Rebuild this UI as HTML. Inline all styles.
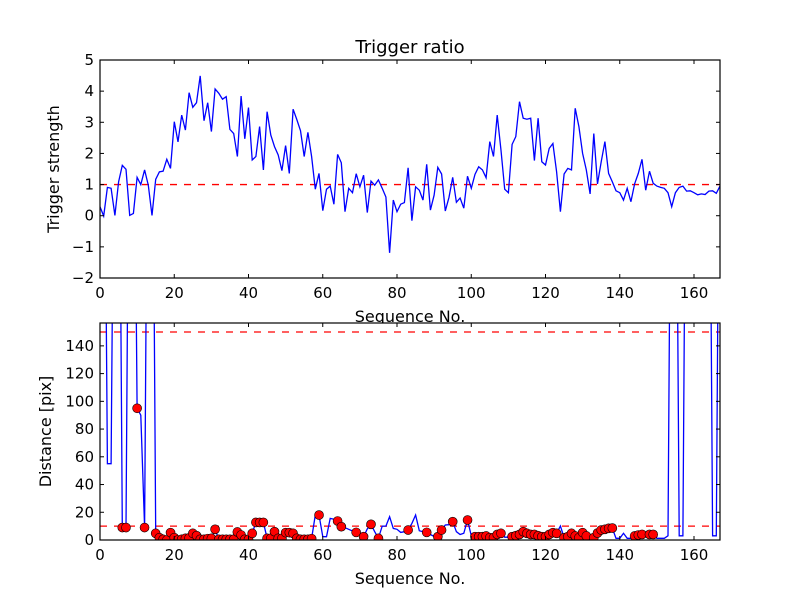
<!DOCTYPE html>
<html><head><meta charset="utf-8"><style>
body{margin:0;background:#fff}
svg{display:block;font-family:"DejaVu Sans","Liberation Sans",sans-serif}
</style></head><body>
<svg id="chart" width="800" height="600" viewBox="0 0 800 600">
<rect width="800" height="600" fill="#fff"/>
</svg>
<script>
const trigger = [0.29,-0.01,0.91,0.88,0.01,1.09,1.62,1.49,0.01,0.07,1.23,1.0,1.47,0.98,0.01,1.17,1.41,1.43,1.81,1.52,3.02,2.37,3.23,2.75,3.95,3.48,3.63,4.49,3.05,3.63,2.7,4.07,3.93,3.74,3.82,2.77,2.64,1.9,3.84,2.47,3.47,1.79,1.9,2.86,1.47,3.34,2.59,2.22,1.95,1.45,2.25,1.36,3.42,3.09,2.73,1.9,2.68,1.9,0.85,1.36,0.16,0.85,0.95,0.37,1.97,1.7,0.13,0.88,0.74,1.35,0.93,1.3,0.1,1.11,0.98,1.15,0.88,0.6,-1.19,0.5,0.13,0.37,0.42,1.54,-0.16,0.93,0.82,0.5,1.65,0.18,0.66,1.55,1.34,0.15,0.59,1.23,0.43,0.57,0.24,1.27,0.88,1.33,1.57,1.47,1.22,2.38,1.9,3.23,2.1,0.85,0.74,2.29,2.54,3.66,3.13,3.1,3.13,1.77,3.13,1.73,1.63,2.16,2.32,1.41,0.13,1.34,1.52,1.47,3.45,2.86,2.0,1.47,0.7,2.64,1.02,1.73,2.38,1.36,1.09,0.8,0.74,0.5,0.88,0.45,1.02,1.36,1.81,0.82,1.43,1.04,0.95,0.91,0.88,0.74,0.29,0.74,0.91,0.95,0.79,0.8,0.74,0.67,0.7,0.68,0.79,0.8,0.72,0.95];
const distance = [1000,1000,55,55,1000,1000,9,9,1000,1000,95,90,9,1000,1000,4.8,1.7,0.5,0,5.3,1.7,0,0.5,1.2,1.5,4.8,3.1,0.5,0.5,1.0,1.2,7.7,0.5,0.5,0.5,0.5,0.5,5.8,3.6,0.5,0.5,4.8,12.7,12.7,12.7,1.2,1.2,6.0,1.2,1.2,5.3,5.3,4.8,1.2,0.5,0.5,0.5,1.0,18,18,2.4,2.4,15.6,15,13.7,9.6,8.9,7.7,6.5,5.5,3,2.4,8,11.3,6,1.2,10,10,16.8,8.4,7.7,5.5,6,7.2,12,18,6.7,6,5.5,4,2.5,2.4,7.2,10.8,11,13.2,6,4,4.8,14.4,3,2.4,2.4,2.4,2.9,1.7,1.7,4,4.8,2,2,2.4,3.1,4,6,4.8,4,4,3.1,2.4,2.4,4,5.3,4.8,10,1.7,2.4,4.8,2.9,1.7,5.3,2.9,1.7,1.7,5,7.2,7.7,8.4,8.6,1.2,1.2,4.8,1.2,1.2,2.9,3.6,4,4,4,4,1.2,1.2,1.2,3,1000,1000,3,3,1000,1000,1000,1000,1000,1000,1000,3,3,1000];
const xTicks = [0,20,40,60,80,100,120,140,160];
const topYTicks = [-2,-1,0,1,2,3,4,5];
const botYTicks = [0,20,40,60,80,100,120,140];
const triggerThreshold = 1;
const distLines = [10,150];

const NS = "http://www.w3.org/2000/svg";
const svg = document.getElementById('chart');
function mk(tag, attrs, parent){const e=document.createElementNS(NS,tag);for(const k in attrs)e.setAttribute(k,attrs[k]);(parent||svg).appendChild(e);return e;}
const L=100,R=720,XMAX=167;
const sx = v => L + v/XMAX*(R-L);
const T1=60,B1=278,Y1MIN=-2,Y1MAX=5;
const sy1 = v => B1 - (v-Y1MIN)/(Y1MAX-Y1MIN)*(B1-T1);
const T2=323,B2=540,Y2MAX=(540-323)/(208/150);
const sy2 = v => B2 - v/Y2MAX*(B2-T2);

mk('defs',{}).innerHTML='<clipPath id="c1"><rect x="100" y="60" width="620" height="218"/></clipPath><clipPath id="c2"><rect x="100" y="323" width="620" height="217"/></clipPath>';

function axes(top,bot,yt,sy,name,ylabel,title){
  const g=mk('g',{});  
  xTicks.forEach(t=>{const x=sx(t);
    mk('line',{x1:x,x2:x,y1:bot,y2:bot-4,stroke:'#000'},g);
    mk('line',{x1:x,x2:x,y1:top,y2:top+4,stroke:'#000'},g);
    const tx=mk('text',{x:x,y:bot+20,'font-size':15,'text-anchor':'middle'},g);tx.textContent=t;
    
  });
  yt.forEach(t=>{const y=sy(t);
    mk('line',{x1:L,x2:L+4,y1:y,y2:y,stroke:'#000'},g);
    mk('line',{x1:R,x2:R-4,y1:y,y2:y,stroke:'#000'},g);
    const tx=mk('text',{x:L-6,y:y+5,'font-size':15,'text-anchor':'end'},g);tx.textContent=(t<0?'\u2212'+(-t):t);
    
  });
  const xl=mk('text',{x:410,y:bot+44,'font-size':16,'text-anchor':'middle'},g);xl.textContent='Sequence No.';
  
  const cy=(top+bot)/2;
  const yl=mk('text',{x:0,y:0,'font-size':16,'text-anchor':'middle',transform:`translate(${ylabel[1]},${cy}) rotate(-90)`},g);yl.textContent=ylabel[0];
  
  if(title){const tt=mk('text',{x:410,y:53,'font-size':18,'text-anchor':'middle'},g);tt.textContent=title;
    }
}

const th=mk('line',{x1:L,x2:R,y1:sy1(triggerThreshold),y2:sy1(triggerThreshold),stroke:'#f00','stroke-dasharray':'7,7','stroke-width':1.3});

const p1=mk('path',{d:trigger.map((v,i)=>(i?'L':'M')+sx(i).toFixed(1)+','+sy1(v).toFixed(1)).join(''),fill:'none',stroke:'#00f','stroke-width':1.3,'clip-path':'url(#c1)'});

mk('rect',{x:L,y:T1,width:R-L,height:B1-T1,fill:'none',stroke:'#000','stroke-width':1.2});
axes(T1,B1,topYTicks,sy1,'top-axes',['Trigger strength',59],'Trigger ratio');

mk('rect',{x:L,y:T2,width:R-L,height:B2-T2,fill:'#fff'});
distLines.forEach(d=>{const l=mk('line',{x1:L,x2:R,y1:sy2(d),y2:sy2(d),stroke:'#f00','stroke-dasharray':'7,7','stroke-width':1.3});
  });
const p2=mk('path',{d:distance.map((v,i)=>(i?'L':'M')+sx(i).toFixed(1)+','+sy2(Math.min(v,400)).toFixed(1)).join(''),fill:'none',stroke:'#00f','stroke-width':1.3,'clip-path':'url(#c2)'});

const dg=mk('g',{'clip-path':'url(#c2)'});
distance.forEach((v,i)=>{if(trigger[i]>triggerThreshold && v<Y2MAX){
  const c=mk('circle',{cx:sx(i),cy:sy2(v),r:4.5,fill:'#f00',stroke:'#000','stroke-width':0.6},dg);
  }});
mk('rect',{x:L,y:T2,width:R-L,height:B2-T2,fill:'none',stroke:'#000','stroke-width':1.2});
axes(T2,B2,botYTicks,sy2,'bottom-axes',['Distance [pix]',51],null);
</script>
</body></html>
